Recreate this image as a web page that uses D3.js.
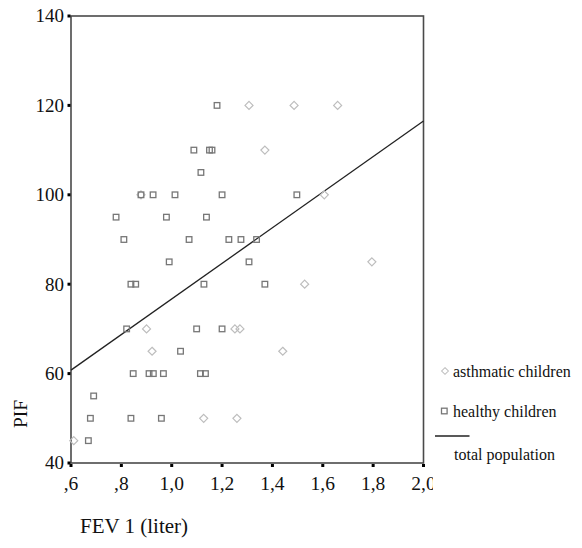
<!DOCTYPE html>
<html>
<head>
<meta charset="utf-8">
<script src="https://cdn.jsdelivr.net/npm/d3@7"></script>
<style>
  body { margin: 0; background: #fff; }
  text { font-family: "Liberation Serif", "Times New Roman", serif; fill: #111; }
</style>
</head>
<body>
<div id="viz"></div>
<script>
// healthy children (squares)
var healthyFev = [1.18, 1.088, 1.15, 1.16, 1.116, 0.878, 0.926, 1.013, 1.2, 1.497,
                  0.779, 0.979, 1.138, 0.81, 1.069, 1.227, 1.275, 1.337, 0.99, 1.307,
                  0.838, 0.857, 1.128, 1.37, 0.821, 1.099, 1.2, 1.035, 0.847, 0.91,
                  0.927, 0.967, 1.114, 1.134, 0.69, 0.677, 0.838, 0.959, 0.669];
var healthyPif = [120, 110, 110, 110, 105, 100, 100, 100, 100, 100,
                  95, 95, 95, 90, 90, 90, 90, 90, 85, 85,
                  80, 80, 80, 80, 70, 70, 70, 65, 60, 60,
                  60, 60, 60, 60, 55, 50, 50, 50, 45];
// asthmatic children (diamonds)
var asthmaFev = [1.307, 1.486, 1.659, 1.37, 1.606, 0.878, 1.795, 1.528, 0.9, 1.251,
                 1.271, 0.922, 1.441, 1.127, 1.259, 0.611];
var asthmaPif = [120, 120, 120, 110, 100, 100, 85, 80, 70, 70,
                 70, 65, 65, 50, 50, 45];
// total population fit: PIF = a + b * FEV
var fitCoef = [36.9, 39.8];

var xTicks = [0.6, 0.8, 1.0, 1.2, 1.4, 1.6, 1.8, 2.0];
var xTickLabels = [",6", ",8", "1,0", "1,2", "1,4", "1,6", "1,8", "2,0"];
var yTicks = [40, 60, 80, 100, 120, 140];
var legendLabels = ["asthmatic children", "healthy children", "total population"];

var W = 582, H = 548;
var x = d3.scaleLinear().domain([0.6, 2.0]).range([71, 423.5]);
var y = d3.scaleLinear().domain([40, 140]).range([463, 16]);

var svg = d3.select("#viz").append("svg")
    .attr("width", W)
    .attr("height", H);

svg.append("rect").attr("width", W).attr("height", H).attr("fill", "#fff");

// frame
svg.append("rect")
    .attr("x", x(0.6)).attr("y", y(140))
    .attr("width", x(2.0) - x(0.6)).attr("height", y(40) - y(140))
    .attr("fill", "none")
    .attr("stroke", "#4a4a4a")
    .attr("stroke-width", 1.6);

// ticks (small black squares)
svg.selectAll(".ytick").data(yTicks).enter().append("rect")
    .attr("x", x(0.6) - 3.5).attr("y", function(d) { return y(d) - 1.5; })
    .attr("width", 3).attr("height", 3).attr("fill", "#000");
svg.selectAll(".xtick").data(xTicks).enter().append("rect")
    .attr("x", function(d) { return x(d) - 1.5; }).attr("y", y(40) + 1)
    .attr("width", 3).attr("height", 3).attr("fill", "#000");

svg.selectAll(".ylab").data(yTicks).enter().append("text")
    .attr("x", 64)
    .attr("y", function(d) { return y(d); })
    .attr("dy", "0.34em")
    .attr("text-anchor", "end")
    .style("font-size", "19px")
    .text(function(d) { return d; });

// last x label is cut off in the original
svg.append("clipPath").attr("id", "xclip")
  .append("rect").attr("x", 0).attr("y", 0).attr("width", 433).attr("height", H);

svg.append("g").attr("clip-path", "url(#xclip)")
  .selectAll("text").data(xTicks).enter().append("text")
    .attr("x", function(d) { return x(d); })
    .attr("y", 490)
    .attr("text-anchor", "middle")
    .style("font-size", "19.5px")
    .text(function(d, i) { return xTickLabels[i]; });

// axis titles
svg.append("text")
    .attr("x", 80).attr("y", 533)
    .style("font-size", "21px")
    .text("FEV 1 (liter)");
svg.append("text")
    .attr("transform", "translate(27,414) rotate(-90)")
    .attr("text-anchor", "middle")
    .style("font-size", "19.5px")
    .text("PIF");

// regression line
var fitX = x.domain();
svg.append("line")
    .attr("x1", x(fitX[0])).attr("y1", y(fitCoef[0] + fitCoef[1] * fitX[0]))
    .attr("x2", x(fitX[1])).attr("y2", y(fitCoef[0] + fitCoef[1] * fitX[1]))
    .attr("stroke", "#222")
    .attr("stroke-width", 1.3);

var diamond = "M0,-4L4,0L0,4L-4,0Z";

svg.selectAll(".asth").data(asthmaFev).enter().append("path")
    .attr("class", "asth")
    .attr("d", diamond)
    .attr("transform", function(d, i) { return "translate(" + x(d) + "," + y(asthmaPif[i]) + ")"; })
    .attr("fill", "none")
    .attr("stroke", "#bdbdbd")
    .attr("stroke-width", 1.2);

svg.selectAll(".healthy").data(healthyFev).enter().append("rect")
    .attr("class", "healthy")
    .attr("x", function(d) { return x(d) - 2.8; })
    .attr("y", function(d, i) { return y(healthyPif[i]) - 2.8; })
    .attr("width", 5.6).attr("height", 5.6)
    .attr("fill", "none")
    .attr("stroke", "#777")
    .attr("stroke-width", 1.3);

// legend
var lg = svg.append("g");
lg.append("path").attr("d", diamond)
    .attr("transform", "translate(445,371) scale(0.85)")
    .attr("fill", "none").attr("stroke", "#bdbdbd").attr("stroke-width", 1.2);
lg.append("text").attr("x", 453).attr("y", 377)
    .style("font-size", "16px").text(legendLabels[0]);
lg.append("rect").attr("x", 441.5).attr("y", 408.2).attr("width", 5.6).attr("height", 5.6)
    .attr("fill", "none").attr("stroke", "#777").attr("stroke-width", 1.3);
lg.append("text").attr("x", 453).attr("y", 416.5)
    .style("font-size", "16px").text(legendLabels[1]);
lg.append("line").attr("x1", 435).attr("x2", 469.5).attr("y1", 436).attr("y2", 436)
    .attr("stroke", "#222").attr("stroke-width", 1.3);
lg.append("text").attr("x", 454).attr("y", 460)
    .style("font-size", "16px").text(legendLabels[2]);
</script>
</body>
</html>
